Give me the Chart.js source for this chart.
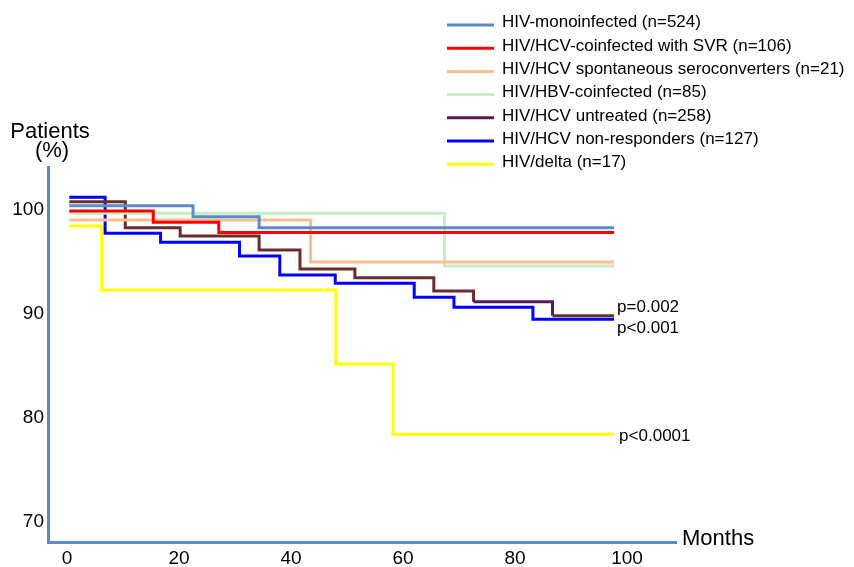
<!DOCTYPE html>
<html>
<head>
<meta charset="utf-8">
<script src="https://cdn.jsdelivr.net/npm/chart.js@4/dist/chart.umd.min.js"></script>
<style>
html,body{margin:0;padding:0;background:#fff;}
#wrap{width:854px;height:567px;position:relative;}
</style>
</head>
<body>
<div id="wrap"><canvas id="c" width="854" height="567"></canvas></div>
<script>
// ---- data (months of events, survival % after each event) ----
const seriesNames = [
  'HIV-monoinfected (n=524)',
  'HIV/HCV-coinfected with SVR (n=106)',
  'HIV/HCV spontaneous seroconverters (n=21)',
  'HIV/HBV-coinfected (n=85)',
  'HIV/HCV untreated (n=258)',
  'HIV/HCV non-responders (n=127)',
  'HIV/delta (n=17)'
];
const monoMonths = [0.4, 22.5, 34.3, 97.7];
const monoValues = [100.38, 99.33, 98.27, 98.27];
const svrMonths = [0.4, 15.4, 27.1, 97.7];
const svrValues = [99.88, 98.79, 97.81, 97.81];
const spontMonths = [0.4, 43.5, 97.7];
const spontValues = [99.01, 94.98, 94.98];
const hbvMonths = [0.4, 67.4, 97.7];
const hbvValues = [99.66, 94.6, 94.6];
const untreatedMonths = [0.4, 10.4, 20.2, 34.3, 41.6, 51.4, 65.5, 72.6, 86.7, 97.7];
const untreatedValues = [100.77, 98.27, 97.48, 96.13, 94.31, 93.47, 92.2, 91.17, 89.82, 89.82];
const nonRespMonths = [0.4, 6.8, 16.7, 30.8, 38.0, 47.9, 62.0, 69.1, 83.2, 97.7];
const nonRespValues = [101.19, 97.74, 96.87, 95.56, 93.73, 92.94, 91.59, 90.63, 89.48, 89.48];
const deltaMonths = [0.4, 6.2, 48.0, 58.2, 97.7];
const deltaValues = [98.44, 92.29, 85.19, 78.44, 78.44];

const xTicks = [0, 20, 40, 60, 80, 100];
const yTicks = [70, 80, 90, 100];
const pLabels = ['p=0.002', 'p<0.001', 'p<0.0001'];

// ---- styles ----
const lineColors = ['#5B8BC8', '#FF0000', '#F8BF94', '#C4EEC4', '#6B2C2C', '#0000FF', '#FFFF00'];
const legendColors = ['#5B8BC8', '#FF0000', '#F8BF94', '#C4EEC4', '#5A1758', '#0000FF', '#FFFF00'];
const FONT = "'Liberation Sans', Arial, Helvetica, sans-serif";

const monthsList = [monoMonths, svrMonths, spontMonths, hbvMonths, untreatedMonths, nonRespMonths, deltaMonths];
const valuesList = [monoValues, svrValues, spontValues, hbvValues, untreatedValues, nonRespValues, deltaValues];

const datasets = seriesNames.map((name, i) => {
  const ds = {
    label: name,
    data: monthsList[i].map((m, k) => ({x: m, y: valuesList[i][k]})),
    borderColor: lineColors[i],
    backgroundColor: lineColors[i],
    borderWidth: 3,
    pointRadius: 0,
    fill: false,
    stepped: true,
    tension: 0
  };
  if (i === 4) {
    ds.segment = { borderColor: ctx => ctx.p0DataIndex === 7 ? '#5A1758' : undefined };
  }
  return ds;
});

// p-value labels attached to the end of a dataset: [datasetIndex, dx, dy]
const pAnchors = [[4, 3, -4], [5, 3, 14], [6, 5, 6.5]];

const decorPlugin = {
  id: 'decor',
  afterDraw(chart) {
    const ctx = chart.ctx;
    ctx.save();
    // legend
    ctx.font = '17px ' + FONT;
    ctx.fillStyle = '#000';
    ctx.textAlign = 'left';
    ctx.textBaseline = 'alphabetic';
    seriesNames.forEach((name, i) => {
      const ly = 25 + 23.2 * i;
      ctx.strokeStyle = legendColors[i];
      ctx.lineWidth = 3;
      ctx.beginPath();
      ctx.moveTo(447, ly);
      ctx.lineTo(494, ly);
      ctx.stroke();
      ctx.fillText(name, 502, 27.4 + 23.3 * i);
    });
    // axis titles
    ctx.font = '22px ' + FONT;
    ctx.textAlign = 'center';
    ctx.fillText('Patients', 50, 137.5);
    ctx.fillText('(%)', 52, 157);
    ctx.textAlign = 'left';
    ctx.fillText('Months', 682, 545);
    // p-values
    ctx.font = '17px ' + FONT;
    const xs = chart.scales.x, ys = chart.scales.y;
    pAnchors.forEach((a, i) => {
      const ds = chart.data.datasets[a[0]];
      const last = ds.data[ds.data.length - 1];
      ctx.fillText(pLabels[i], xs.getPixelForValue(last.x) + a[1], ys.getPixelForValue(last.y) + a[2]);
    });
    ctx.restore();
  }
};

new Chart(document.getElementById('c'), {
  type: 'line',
  data: { datasets },
  options: {
    responsive: false,
    animation: false,
    devicePixelRatio: 1,
    layout: { padding: { left: 0, top: 167, right: 178, bottom: 0 } },
    plugins: { legend: { display: false }, tooltip: { enabled: false } },
    scales: {
      x: {
        type: 'linear',
        min: -3.4,
        max: 108.75,
        grid: { display: false, drawTicks: false },
        border: { display: true, color: '#5B8BC8', width: 3 },
        afterBuildTicks: s => { s.ticks = xTicks.map(v => ({value: v})); },
        afterFit: s => { s.height = 25; },
        ticks: { padding: 5, color: '#000', font: { size: 19, family: FONT }, maxRotation: 0, autoSkip: false }
      },
      y: {
        type: 'linear',
        min: 68.1,
        max: 104.1,
        grid: { display: false, drawTicks: false },
        border: { display: true, color: '#5B8BC8', width: 3 },
        afterBuildTicks: s => { s.ticks = yTicks.map(v => ({value: v})); },
        afterFit: s => { s.width = 48; },
        ticks: { padding: 4, color: '#000', font: { size: 19, family: FONT }, autoSkip: false }
      }
    }
  },
  plugins: [decorPlugin]
});
</script>
</body>
</html>
